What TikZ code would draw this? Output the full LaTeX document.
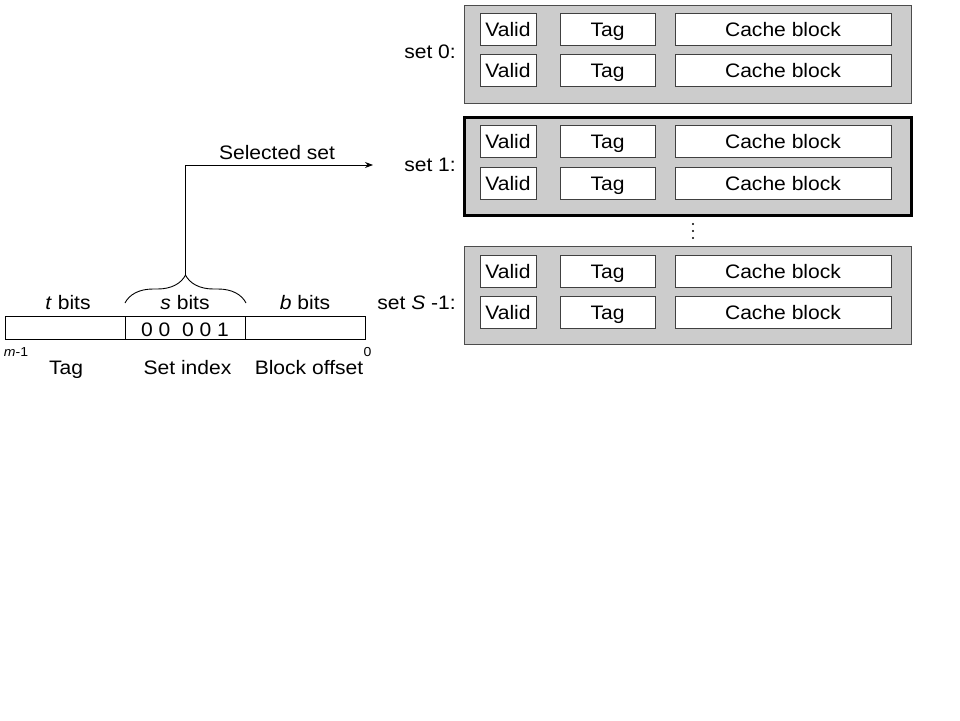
\documentclass[tikz,border=0pt]{standalone}
\usepackage{fontspec}
\setmainfont[FakeStretch=1.08]{Liberation Sans}
\usetikzlibrary{arrows.meta,decorations.pathreplacing}
\begin{document}
\begin{tikzpicture}[x=1pt,y=-1pt,
  txt/.style={font=\fontsize{19.5}{23}\selectfont, inner sep=0pt, text height=14pt, text depth=0pt},
  small/.style={font=\fontsize{13}{15}\selectfont, inner sep=0pt, text height=9.3pt, text depth=0pt},
  setbox/.style={draw=black!70, fill=black!20, line width=1pt, minimum width=447pt, minimum height=98pt, inner sep=0pt},
  selbox/.style={setbox, draw=black, line width=3.5pt},
  cell/.style={draw=black!75, fill=white, line width=0.9pt, minimum height=32pt, inner sep=0pt, font=\fontsize{19.5}{23}\selectfont, text height=14pt, text depth=0pt},
  validc/.style={cell, minimum width=56pt},
  tagc/.style={cell, minimum width=95pt},
  cachec/.style={cell, minimum width=216pt},
  fieldbox/.style={draw=black, line width=0.9pt, minimum height=23pt, inner sep=0pt},
  conn/.style={draw=black, line width=0.9pt},
  dotc/.style={circle, fill=black, inner sep=0pt, minimum size=2.4pt}
]
\useasboundingbox (0,0) rectangle (960,720);
% sets
\node[setbox] (s0) at (687.5,54) {};
\node[selbox] (s1) at (688,166.5) {};
\node[setbox] (s2) at (687.5,295.5) {};
\foreach \s/\ya/\yb in {0/29.5/70.5, 1/141.5/183, 2/271/312}{
  \node[validc] (v\s a) at (508,\ya) {Valid};
  \node[tagc] (t\s a) at (607.5,\ya) {Tag};
  \node[cachec] (c\s a) at (783,\ya) {Cache block};
  \node[validc] (v\s b) at (508,\yb) {Valid};
  \node[tagc] (t\s b) at (607.5,\yb) {Tag};
  \node[cachec] (c\s b) at (783,\yb) {Cache block};
}
\node[txt, anchor=east] (l0) at (456,51.5) {set 0:};
\node[txt, anchor=east] (l1) at (456,164) {set 1:};
\node[txt, anchor=east] (l2) at (456,302.5) {set \textit{S} -1:};
\node[dotc] (d1) at (693,224) {};
\node[dotc] (d2) at (693,231) {};
\node[dotc] (d3) at (693,238) {};
% address
\node[fieldbox, minimum width=120pt] (ftag) at (65,327.5) {};
\node[fieldbox, minimum width=120pt] (fset) at (185,327.5) {};
\node[fieldbox, minimum width=120pt] (foff) at (305,327.5) {};
\node[txt] (bits) at (185,329) {0 0 \ 0 0 1};
\node[txt] (tb) at (68,302.5) {\textit{t} bits};
\node[txt] (sb) at (185,302.5) {\textit{s} bits};
\node[txt] (bb) at (305,302.5) {\textit{b} bits};
\node[small] (m1) at (16,352) {\textit{m}-1};
\node[small] (z0) at (367.5,351.5) {0};
\node[txt] (ltag) at (66,367) {Tag};
\node[txt] (lset) at (187.5,367) {Set index};
\node[txt] (loff) at (309,367) {Block offset};
% brace and arrow
\coordinate (bl) at (125,303);
\coordinate (br) at (246,303);
\draw[conn, decorate, decoration={brace, amplitude=28pt}] (bl) -- (br);
\coordinate (tip) at (185.5,275.5);
\coordinate (corner) at (185.5,165);
\coordinate (end) at (373,165);
\draw[conn, -{Stealth[length=8pt,width=6pt]}] (tip) -- (corner) -- (end);
\node[txt] (sel) at (277,152.5) {Selected set};
\end{tikzpicture}
\end{document}
